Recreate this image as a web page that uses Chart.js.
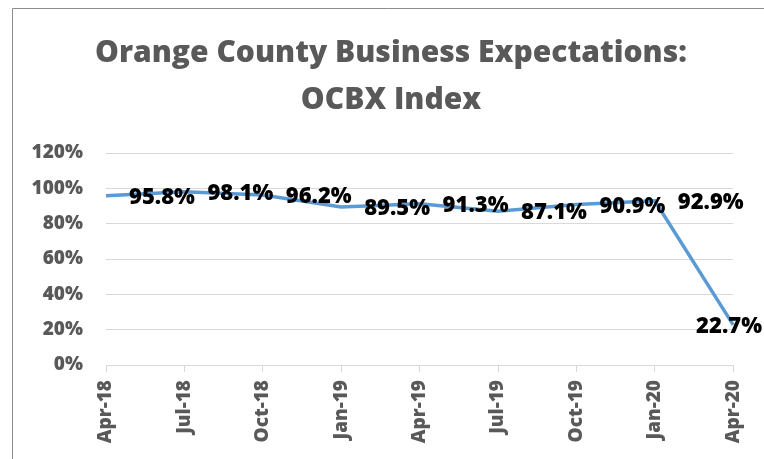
<!DOCTYPE html>
<html>
<head>
<meta charset="utf-8">
<script src="https://cdn.jsdelivr.net/npm/chart.js@4/dist/chart.umd.min.js"></script>
<style>
  body { margin: 0; background: #fff; }
  #box { width: 764px; height: 459px; position: relative; }
</style>
</head>
<body>
<div id="box"><canvas id="myCanvas"></canvas></div>
<script>
let quarters = ["Apr-18", "Jul-18", "Oct-18", "Jan-19", "Apr-19", "Jul-19", "Oct-19", "Jan-20", "Apr-20"]
let ocbx = [95.8, 98.1, 96.2, 89.5, 91.3, 87.1, 90.9, 92.9, 22.7]
let titleLines = ["Orange County Business Expectations:", "OCBX Index"]

let gray = "#595959"
let gridGray = "#D9D9D9"

// white page, frame line on the left and top, and the two title lines
let frame = {
    id: "frame",
    beforeDraw(chart) {
        let c = chart.ctx
        c.save()
        c.fillStyle = "#fff"
        c.fillRect(0, 0, chart.width, chart.height)
        c.strokeStyle = "#8c8c8c"
        c.lineWidth = 1
        c.beginPath()
        c.moveTo(12.5, chart.height)
        c.lineTo(12.5, 8.5)
        c.lineTo(chart.width, 8.5)
        c.stroke()

        c.fillStyle = gray
        c.font = "800 30px 'Open Sans'"
        c.textAlign = "center"
        c.textBaseline = "alphabetic"
        c.fillText(titleLines[0], 391, 62)
        c.fillText(titleLines[1], 391, 109)
        c.restore()
    }
}

// value labels to the right of each point
let valueLabels = {
    id: "valueLabels",
    afterDatasetsDraw(chart) {
        let c = chart.ctx
        let meta = chart.getDatasetMeta(0)
        c.save()
        c.font = "800 22px 'Open Sans'"
        c.fillStyle = "#000"
        c.textBaseline = "middle"
        c.textAlign = "left"
        meta.data.forEach(function (pt, i) {
            let txt = ocbx[i].toFixed(1) + "%"
            let w = c.measureText(txt).width
            let x = pt.x + 23
            if (x + w > chart.width - 2) {
                x = chart.width - 2 - w
            }
            c.fillText(txt, x, pt.y + 2)
        })
        c.restore()
    }
}

let ctx = document.querySelector("#myCanvas").getContext("2d")
let chart = new Chart(ctx, {
    type: "line",
    data: {
        labels: quarters,
        datasets: [{
            label: "OCBX",
            data: ocbx,
            borderColor: "#5B9BD5",
            borderWidth: 3.5,
            pointRadius: 0,
            tension: 0,
            fill: false
        }]
    },
    options: {
        responsive: true,
        maintainAspectRatio: false,
        animation: false,
        layout: { padding: { left: 0, right: 23, top: 153, bottom: 0 } },
        plugins: {
            legend: { display: false },
            tooltip: { enabled: false },
            title: { display: false }
        },
        scales: {
            x: {
                offset: false,
                grid: { drawOnChartArea: false, drawTicks: true, tickLength: 7, color: gridGray },
                border: { color: gridGray, width: 1 },
                ticks: {
                    color: gray,
                    font: { family: "'Open Sans'", size: 19, weight: "800" },
                    minRotation: 90,
                    maxRotation: 90,
                    padding: 8,
                    autoSkip: false
                },
                afterFit(scale) { scale.height = 94 }
            },
            y: {
                min: 0,
                max: 120,
                grid: { drawTicks: false, color: gridGray, lineWidth: 1 },
                border: { display: false },
                ticks: {
                    stepSize: 20,
                    color: gray,
                    padding: 23,
                    font: { family: "'Open Sans'", size: 19, weight: "800" },
                    callback: function (v) { return v + "%" }
                },
                afterFit(scale) { scale.width = 106 }
            }
        }
    },
    plugins: [frame, valueLabels]
})
</script>
</body>
</html>
